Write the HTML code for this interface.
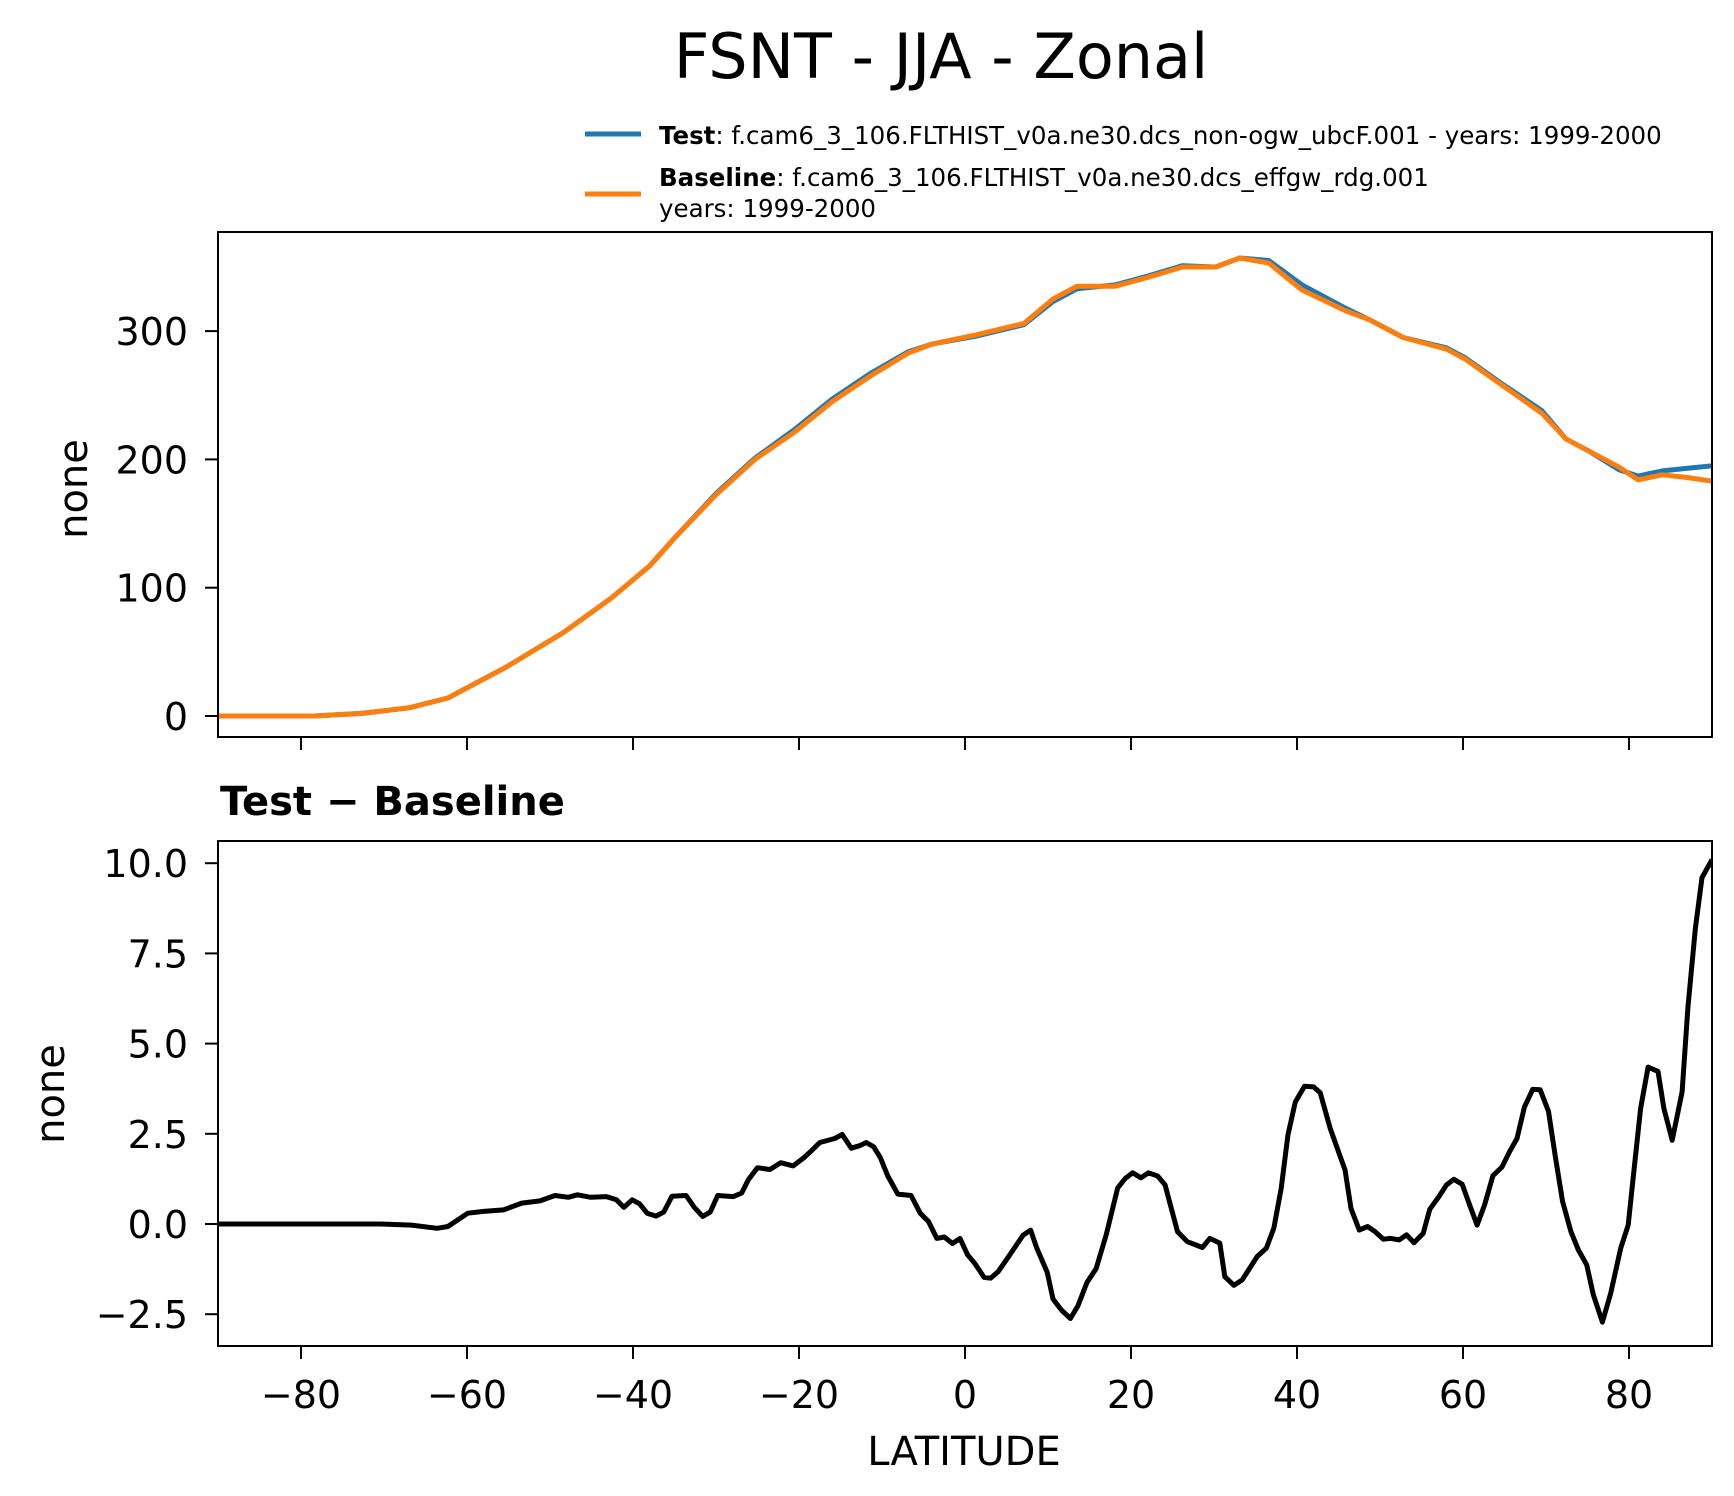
<!DOCTYPE html>
<html><head><meta charset="utf-8"><style>
html,body{margin:0;padding:0;background:#fff;}
svg{display:block;font-family:"DejaVu Sans","Liberation Sans",sans-serif;}
</style></head><body>
<svg id="chart" width="1734" height="1496" viewBox="0 0 1734 1496" xmlns="http://www.w3.org/2000/svg">
<rect width="1734" height="1496" fill="#fff"/>
<text x="941" y="78" font-size="62" text-anchor="middle">FSNT - JJA - Zonal</text>
<g>
<line x1="585" y1="134" x2="641" y2="134" stroke="#1f77b4" stroke-width="5"/>
<text x="659" y="144" font-size="24.5"><tspan font-weight="bold">Test</tspan>: f.cam6_3_106.FLTHIST_v0a.ne30.dcs_non-ogw_ubcF.001 - years: 1999-2000</text>
<line x1="585" y1="194" x2="641" y2="194" stroke="#ff7f0e" stroke-width="5"/>
<text x="659" y="186" font-size="24.5"><tspan font-weight="bold">Baseline</tspan>: f.cam6_3_106.FLTHIST_v0a.ne30.dcs_effgw_rdg.001</text>
<text x="659" y="217" font-size="24.5">years: 1999-2000</text>
</g>
<g id="top"></g>
<g id="bot"></g>
<text x="220" y="815" font-size="40" font-weight="bold">Test − Baseline</text>
<text transform="translate(87,489) rotate(-90)" font-size="40" text-anchor="middle">none</text>
<text transform="translate(64,1094) rotate(-90)" font-size="40" text-anchor="middle">none</text>
<text x="964" y="1465" font-size="40" text-anchor="middle">LATITUDE</text>
</svg>
<script>
const xTicks = [-80,-60,-40,-20,0,20,40,60,80];
const topYTicks = [0,100,200,300];
const botYTicks = [-2.5,0,2.5,5,7.5,10];
const botYLabels = ["−2.5","0.0","2.5","5.0","7.5","10.0"];
const topLat = [-90,-78.4,-72.7,-66.9,-62.3,-55.3,-48.4,-42.6,-38,-35.1,-29.9,-25.3,-20.6,-16,-11.4,-6.8,-3.9,1.3,7.1,10.6,13.5,18.1,22.1,26.2,30.2,33.1,36.6,40.6,45.8,48.7,52.8,58,60.3,64.9,69.5,72.4,75.3,78.8,81.1,84,86.9,90];
const baselineVals = [0,0,2,6.5,14,38,65,92,117,138,173,200,221,245,265,283,290,297,306,325,335,335,342,350,350,357,353,332,316,309,295,286,278,257,236,216,206,194,184,188,186,183];
const testVals = [0,0,2,6.5,14,38,65,92,117,138,174,201,223,247,267,284,290,296,305,323,333,336,343,351,350,357,355,336,318,309,295,287,279,258,238,216,206,192,187,191,193,195];
const diffLat = [-90,-70.4,-66.7,-63.6,-62.3,-59.9,-58,-55.6,-53.4,-51.2,-49.4,-47.8,-46.7,-45.1,-43.2,-42,-41.1,-40.1,-39.2,-38.3,-37.2,-36.3,-35.3,-33.6,-32.6,-31.6,-30.7,-29.8,-27.9,-26.9,-26.1,-25,-23.5,-22.2,-20.7,-19.4,-18.5,-17.5,-15.7,-14.8,-13.7,-12.7,-11.9,-11,-10.2,-9.3,-8.1,-6.5,-5.4,-4.4,-3.4,-2.5,-1.5,-0.6,0.3,1.2,2.3,3.1,4,5.2,7,7.9,8.6,9.9,10.6,11.6,12.7,13.6,14.7,15.8,17,18.4,19.3,20.2,21.2,22.1,23.2,24.1,25.6,26.8,28.6,29.5,30.7,31.3,32.4,33.4,35.2,36.3,37.2,38.1,38.9,39.8,40.9,42,42.8,44,45.8,46.5,47.5,48.5,49.4,50.4,51.3,52.3,53.2,54.1,55.2,56,57.1,58,58.9,59.9,60.8,61.7,62.6,63.6,64.7,65.6,66.5,67.4,68.4,69.3,70.3,71.1,72,73,73.9,74.9,75.7,76.8,77.8,79,79.9,80.5,81.4,82.3,83.5,84.2,85.2,86.4,87.1,88,88.8,90];
const diffVals = [0,0,-0.03,-0.12,-0.07,0.30,0.35,0.39,0.58,0.64,0.79,0.74,0.81,0.74,0.76,0.67,0.46,0.67,0.56,0.30,0.22,0.33,0.77,0.79,0.46,0.21,0.33,0.79,0.76,0.86,1.23,1.56,1.51,1.70,1.61,1.84,2.03,2.26,2.37,2.48,2.10,2.17,2.26,2.14,1.84,1.33,0.83,0.79,0.30,0.07,-0.40,-0.36,-0.54,-0.40,-0.85,-1.10,-1.48,-1.50,-1.32,-0.92,-0.31,-0.17,-0.64,-1.34,-2.08,-2.38,-2.62,-2.27,-1.62,-1.24,-0.31,1.0,1.26,1.42,1.28,1.42,1.33,1.09,-0.21,-0.49,-0.65,-0.4,-0.53,-1.46,-1.7,-1.55,-0.9,-0.67,-0.12,0.99,2.46,3.38,3.82,3.8,3.64,2.65,1.49,0.43,-0.17,-0.07,-0.21,-0.42,-0.4,-0.44,-0.3,-0.52,-0.26,0.41,0.76,1.08,1.24,1.1,0.53,-0.03,0.53,1.34,1.58,2.0,2.37,3.24,3.73,3.72,3.12,1.91,0.62,-0.21,-0.72,-1.13,-1.96,-2.72,-1.92,-0.67,-0.03,1.26,3.2,4.35,4.23,3.2,2.32,3.66,6.0,8.2,9.6,10.1];

const NS='http://www.w3.org/2000/svg';
const X0=218, X1=1712;
const xs = v => X0 + (v+90)/180*(X1-X0);
const topTop=232, topBot=737, botTop=841, botBot=1346;
const ysTop = v => 716 - v*1.283;
const ysBot = v => 1224 - v*36.08;
function mk(parent, tag, attrs){const e=document.createElementNS(NS,tag);for(const k in attrs)e.setAttribute(k,attrs[k]);parent.appendChild(e);return e;}
function poly(parent, xsA, ysA, fy, color, name){
  const p=xsA.map((x,i)=>xs(x).toFixed(1)+','+fy(ysA[i]).toFixed(1)).join(' ');
  const e=mk(parent,'polyline',{points:p,fill:'none',stroke:color,'stroke-width':5,'stroke-linejoin':'round'});
  
  
}
function axes(g, top, bot, yt, ylab, fy, showXLabels){
  const clip = mk(g,'clipPath',{id:'c'+top});
  mk(clip,'rect',{x:X0,y:top,width:X1-X0,height:bot-top});
  xTicks.forEach(t=>{
    const l=mk(g,'line',{x1:xs(t),x2:xs(t),y1:bot,y2:bot+13,stroke:'#000','stroke-width':2});
    
    
    if(showXLabels){
      const tx=mk(g,'text',{x:xs(t),y:1408,'font-size':38,'text-anchor':'middle'});
      tx.textContent = t<0 ? '−'+Math.abs(t) : String(t);
      
      
    }
  });
  yt.forEach((t,i)=>{
    const l=mk(g,'line',{x1:X0-13,x2:X0,y1:fy(t),y2:fy(t),stroke:'#000','stroke-width':2});
    
    
    const tx=mk(g,'text',{x:X0-30,y:fy(t)+14,'font-size':38,'text-anchor':'end'});
    tx.textContent = ylab[i];
    
    
  });
  return 'url(#c'+top+')';
}
const gt=document.getElementById('top');
const ct=axes(gt,topTop,topBot,topYTicks,topYTicks.map(String),ysTop,false);
const st=mk(gt,'g',{'clip-path':ct});
poly(st,topLat,testVals,ysTop,'#1f77b4','test-line');
poly(st,topLat,baselineVals,ysTop,'#ff7f0e','baseline-line');
const f1=mk(gt,'rect',{x:X0,y:topTop,width:X1-X0,height:topBot-topTop,fill:'none',stroke:'#000','stroke-width':2});


const gb=document.getElementById('bot');
const cb=axes(gb,botTop,botBot,botYTicks,botYLabels,ysBot,true);
const sb=mk(gb,'g',{'clip-path':cb});
poly(sb,diffLat,diffVals,ysBot,'#000','diff-line');
const f2=mk(gb,'rect',{x:X0,y:botTop,width:X1-X0,height:botBot-botTop,fill:'none',stroke:'#000','stroke-width':2});


</script>
</body></html>
